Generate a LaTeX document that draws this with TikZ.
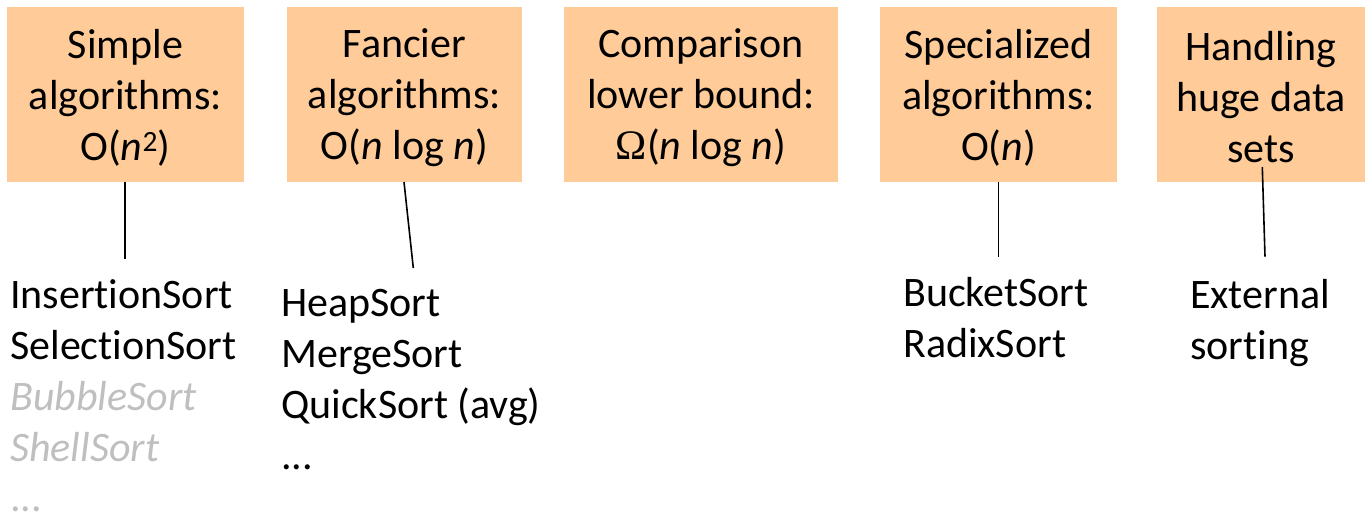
\documentclass[tikz,border=0pt]{standalone}
\usepackage{fontspec}
\setmainfont[Ligatures=NoCommon]{Carlito}
\newfontfamily\omegafont{Liberation Serif}
\definecolor{peach}{RGB}{255,204,153}
\definecolor{lightgray}{RGB}{191,191,191}
\begin{document}
\begin{tikzpicture}[x=1pt,y=-1pt,
  font=\fontsize{42}{51}\selectfont,
  box/.style={fill=peach,draw=none,inner sep=0pt,minimum height=175pt},
  boxtext/.style={align=center,inner sep=0pt,yshift=-3pt},
  item/.style={anchor=base west,inner sep=0pt},
  faint/.style={item,text=lightgray,font=\fontsize{42}{51}\selectfont\itshape},
  conn/.style={draw=black,line width=1.6pt}]
\useasboundingbox (0,0) rectangle (1365,515);
\node[box,minimum width=237pt] (b1) at (125.5,94.5) {};
\node[box,minimum width=235pt] (b2) at (404.5,94.5) {};
\node[box,minimum width=274pt] (b3) at (701,94.5) {};
\node[box,minimum width=237pt] (b4) at (998.5,94.5) {};
\node[box,minimum width=208pt] (b5) at (1261,94.5) {};
\node[boxtext] (t1) at (b1.center) {Simple\\algorithms:\\O(\textit{n}\textsuperscript{2})};
\node[boxtext] (t2) at (b2.center) {Fancier\\algorithms:\\O(\textit{n} log \textit{n})};
\node[boxtext] (t3) at (b3.center) {Comparison\\lower bound:\\{\omegafont Ω}(\textit{n} log \textit{n})};
\node[boxtext] (t4) at (b4.center) {Specialized\\algorithms:\\O(\textit{n})};
\node[boxtext] (t5) at (b5.center) {Handling\\huge data\\sets};
% lists
\node[item] (l1a) at (10,308) {InsertionSort};
\node[item] (l1b) at (10,359) {SelectionSort};
\node[faint] (l1c) at (10,410) {BubbleSort};
\node[faint] (l1d) at (10,461) {ShellSort};
\node[item,text=lightgray] (l1e) at (10,511) {...};
\node[item] (l2a) at (281,316) {HeapSort};
\node[item] (l2b) at (281,367) {MergeSort};
\node[item] (l2c) at (281,418) {QuickSort (avg)};
\node[item] (l2d) at (281,469) {...};
\node[item] (l4a) at (903,306) {BucketSort};
\node[item] (l4b) at (903,357) {RadixSort};
\node[item] (l5a) at (1190,308) {External};
\node[item] (l5b) at (1190,359) {sorting};
% connectors
\coordinate (e1) at (124.7,259);
\coordinate (s2) at (404,182);
\coordinate (e2) at (413.3,268);
\coordinate (e4) at (998.3,256.7);
\coordinate (s5) at (1262.3,167);
\coordinate (e5) at (1265,256.7);
\draw[conn] (b1.south -| e1) -- (e1);
\draw[conn] (s2) -- (e2);
\draw[conn] (b4.south -| e4) -- (e4);
\draw[conn] (s5) -- (e5);
\end{tikzpicture}
\end{document}
